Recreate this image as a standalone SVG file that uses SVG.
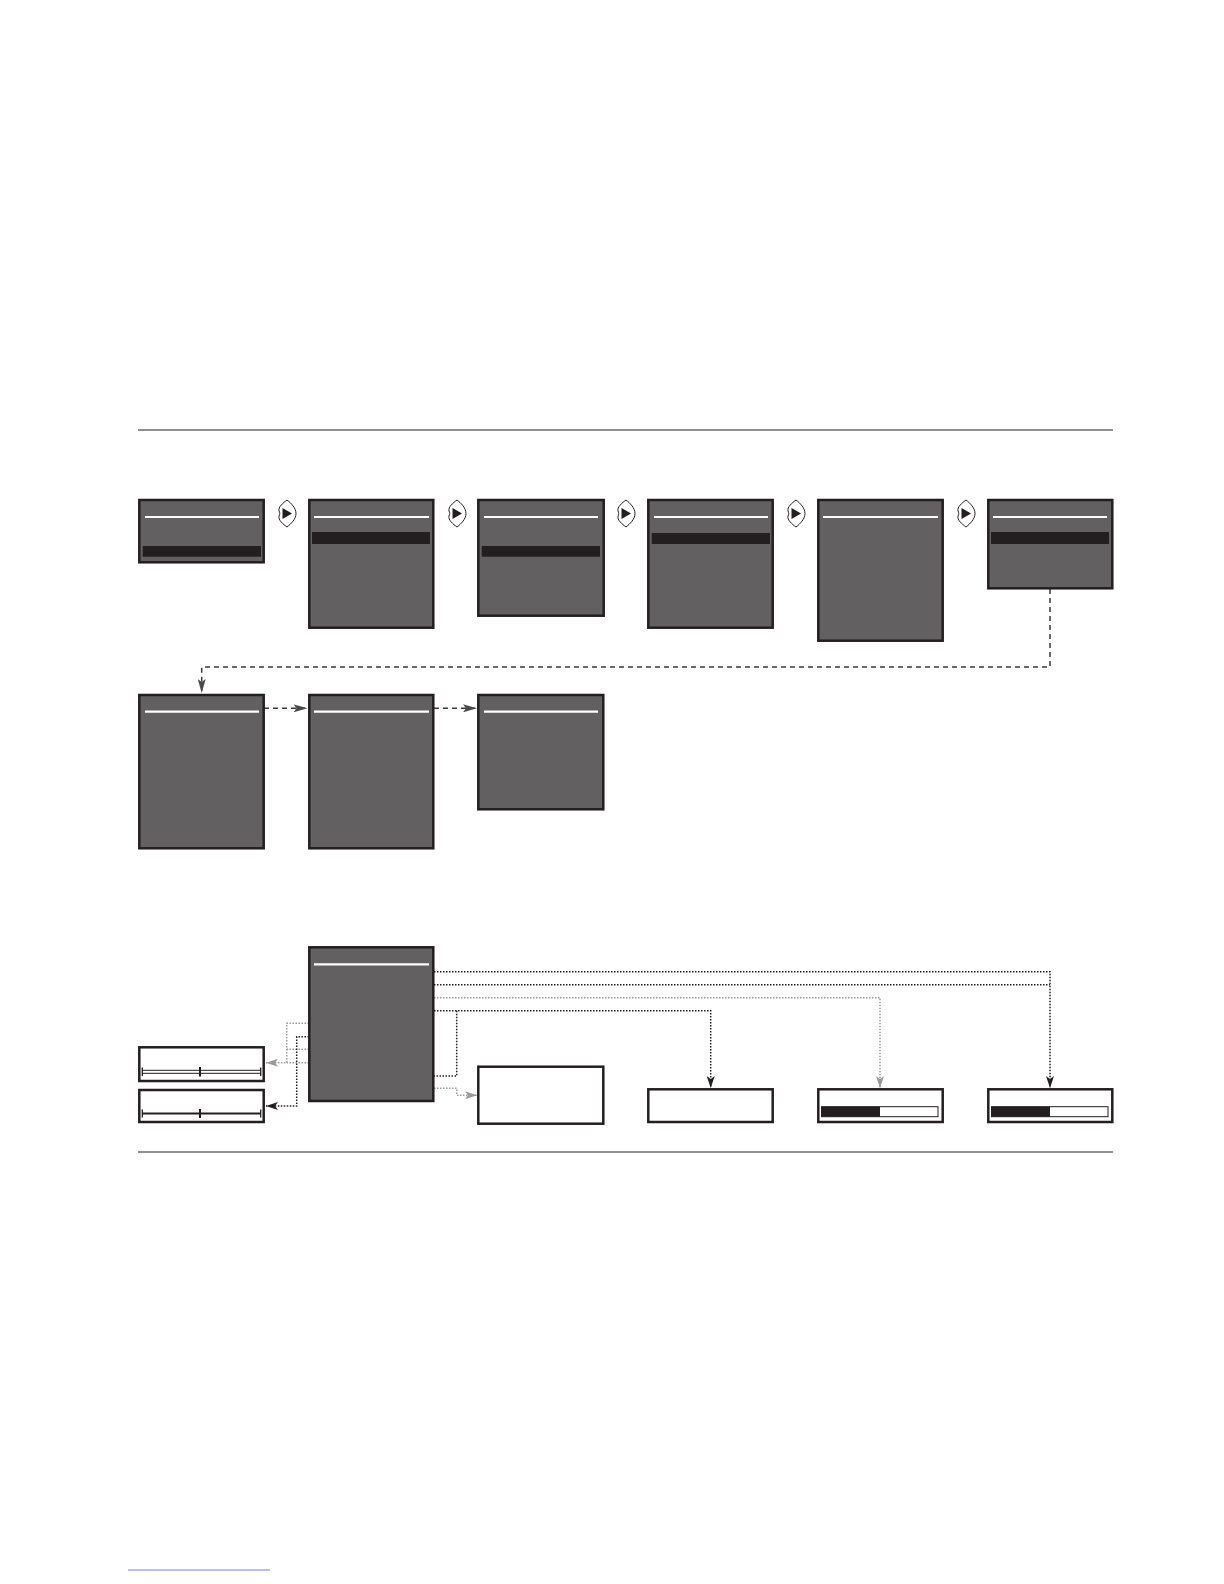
<svg xmlns="http://www.w3.org/2000/svg" width="1224" height="1584" viewBox="0 0 1224 1584">
<defs>
<style>
.scr{fill:#636061;stroke:#231f20;stroke-width:2.5}
.hl{fill:#231f20}
.wl{stroke:#ffffff;stroke-width:2.2}
.wbox{fill:#ffffff;stroke:#231f20;stroke-width:2.5}
.rule{stroke:#231f20;stroke-width:1.2}
.dash{fill:none;stroke:#3a3a3a;stroke-width:1.5;stroke-dasharray:5 4}
.dotk{fill:none;stroke:#231f20;stroke-width:1.5;stroke-dasharray:1.5 1.5}
.dotg{fill:none;stroke:#9a9a9a;stroke-width:1.5;stroke-dasharray:1.5 1.5}
.icon{fill:#ffffff;stroke:#231f20;stroke-width:1}
.tri{fill:#231f20}
</style>
<marker id="ak" viewBox="0 0 12 8" refX="12" refY="4" markerWidth="12" markerHeight="8" markerUnits="userSpaceOnUse" orient="auto"><path d="M0,0 L12,4 L0,8 L3,4 Z" fill="#231f20"/></marker>
<marker id="ag" viewBox="0 0 12 8" refX="12" refY="4" markerWidth="12" markerHeight="8" markerUnits="userSpaceOnUse" orient="auto"><path d="M0,0 L12,4 L0,8 L3,4 Z" fill="#9a9a9a"/></marker>
<marker id="ad" viewBox="0 0 14 8" refX="14" refY="4" markerWidth="14" markerHeight="8" markerUnits="userSpaceOnUse" orient="auto"><path d="M0,0 L14,4 L0,8 L3,4 Z" fill="#4a4a4a"/></marker>
<g id="btn"><path class="icon" d="M9,0 C13,3 18,8 18,13.5 C18,19 13,24 9,27 C5,24 0,20 1,16 C2,14.5 2,12.5 1,11 C0,7 5,3 9,0 Z"/><path class="tri" d="M4.5,8 L14,13.5 L4.5,19 Z"/></g>
</defs>
<rect width="1224" height="1584" fill="#ffffff"/>
<line class="rule" x1="138" y1="430" x2="1113" y2="430"/>
<line class="rule" x1="138" y1="1152" x2="1113" y2="1152"/>

<g id="connectors">
<path class="dash" d="M1050,589 V667 H201.7 V693" marker-end="url(#ad)"/>
<path class="dash" d="M264,708.3 H307.5" marker-end="url(#ad)"/>
<path class="dash" d="M434,708.3 H477" marker-end="url(#ad)"/>
<path class="dotg" d="M309,1023.3 H286.7 V1062.7 H266" marker-end="url(#ag)"/>
<path class="dotg" d="M309,1049.3 H286.7"/>
<path class="dotg" d="M309,1062.7 H286.7"/>
<path class="dotk" d="M309,1036.7 H296.7 V1106 H266" marker-end="url(#ak)"/>
<path class="dotk" d="M434,971.7 H1050 V1088" marker-end="url(#ak)"/>
<path class="dotk" d="M434,984.7 H1050"/>
<path class="dotg" d="M434,997.7 H880 V1088" marker-end="url(#ag)"/>
<path class="dotk" d="M434,1010.7 H710.7 V1088" marker-end="url(#ak)"/>
<path class="dotk" d="M456.7,1010.7 V1076 H434"/>
<path class="dotg" d="M434,1088.3 H456.7 V1095.3 H477" marker-end="url(#ag)"/>
</g>

<g id="icons">
<use href="#btn" x="278" y="500"/>
<use href="#btn" x="448" y="500"/>
<use href="#btn" x="617" y="500"/>
<use href="#btn" x="787" y="500"/>
<use href="#btn" x="957" y="500"/>
</g>

<g id="s1"><rect class="scr" x="139.3" y="500" width="124.4" height="62.3"/><line class="wl" x1="145" y1="517" x2="259" y2="517"/><rect class="hl" x="142.7" y="546" width="118.3" height="10.7"/></g>
<g id="s2"><rect class="scr" x="309.3" y="500" width="124" height="127.7"/><line class="wl" x1="314" y1="517" x2="429" y2="517"/><rect class="hl" x="312" y="532" width="118" height="12"/></g>
<g id="s3"><rect class="scr" x="478.3" y="500" width="125.4" height="115.7"/><line class="wl" x1="484" y1="517" x2="598" y2="517"/><rect class="hl" x="481.7" y="546" width="118.3" height="10.7"/></g>
<g id="s4"><rect class="scr" x="648.3" y="500" width="124.4" height="127.7"/><line class="wl" x1="654" y1="517" x2="768" y2="517"/><rect class="hl" x="651.7" y="533" width="118.3" height="11"/></g>
<g id="s5"><rect class="scr" x="818.3" y="500" width="124.4" height="140.7"/><line class="wl" x1="823" y1="517" x2="938" y2="517"/></g>
<g id="s6"><rect class="scr" x="988.3" y="500" width="124" height="88.3"/><line class="wl" x1="993" y1="517" x2="1107" y2="517"/><rect class="hl" x="991" y="532" width="118" height="12"/></g>

<g id="s7"><rect class="scr" x="139.3" y="695" width="124.4" height="153.3"/><line class="wl" x1="145" y1="711.7" x2="259" y2="711.7"/></g>
<g id="s8"><rect class="scr" x="309.3" y="695" width="124" height="153.3"/><line class="wl" x1="314" y1="711.7" x2="429" y2="711.7"/></g>
<g id="s9"><rect class="scr" x="478.3" y="695" width="125" height="114.3"/><line class="wl" x1="484" y1="711.7" x2="598" y2="711.7"/></g>

<g id="main"><rect class="scr" x="309.3" y="947.3" width="124" height="153.7"/><line class="wl" x1="314" y1="964.3" x2="429" y2="964.3"/></g>

<g id="sliderA"><rect class="wbox" x="139.3" y="1047.3" width="124.4" height="33.7"/>
<line x1="142.3" y1="1070.3" x2="260.7" y2="1070.3" stroke="#231f20" stroke-width="1"/>
<line x1="142.3" y1="1073.3" x2="260.7" y2="1073.3" stroke="#231f20" stroke-width="1"/>
<line x1="142.3" y1="1067.5" x2="142.3" y2="1076" stroke="#231f20" stroke-width="1.3"/>
<line x1="260.7" y1="1067.5" x2="260.7" y2="1076" stroke="#231f20" stroke-width="1.3"/>
<line x1="200" y1="1067" x2="200" y2="1076.5" stroke="#231f20" stroke-width="2"/></g>

<g id="sliderB"><rect class="wbox" x="139.3" y="1090" width="124.4" height="32"/>
<line x1="142.3" y1="1113.5" x2="260.7" y2="1113.5" stroke="#231f20" stroke-width="1.8"/>
<line x1="142.3" y1="1109.5" x2="142.3" y2="1117.5" stroke="#231f20" stroke-width="1.3"/>
<line x1="260.7" y1="1109.5" x2="260.7" y2="1117.5" stroke="#231f20" stroke-width="1.3"/>
<line x1="200" y1="1109" x2="200" y2="1118" stroke="#231f20" stroke-width="2"/></g>

<g id="boxC"><rect class="wbox" x="478.3" y="1066.7" width="125" height="57"/></g>
<g id="boxD"><rect class="wbox" x="648.3" y="1089.3" width="124.4" height="32.7"/></g>
<g id="boxE"><rect class="wbox" x="818.3" y="1089.3" width="124.4" height="32.7"/>
<rect x="821.5" y="1106.7" width="116.5" height="10" fill="#ffffff" stroke="#231f20" stroke-width="1"/>
<rect x="821.5" y="1106.7" width="58.5" height="10" fill="#231f20"/></g>
<g id="boxF"><rect class="wbox" x="988.3" y="1089.3" width="124" height="32.7"/>
<rect x="991.5" y="1106.7" width="116.5" height="10" fill="#ffffff" stroke="#231f20" stroke-width="1"/>
<rect x="991.5" y="1106.7" width="58.5" height="10" fill="#231f20"/></g>

<line x1="128" y1="1570" x2="270" y2="1570" stroke="#6f82d8" stroke-width="1"/>
</svg>
